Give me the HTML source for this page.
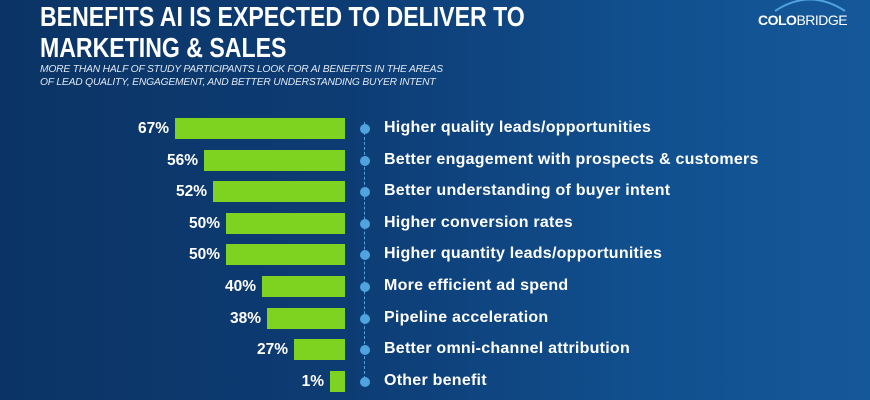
<!DOCTYPE html>
<html><head><style>
body{margin:0;width:870px;height:400px;overflow:hidden;font-family:"Liberation Sans",sans-serif;}
#bg{position:absolute;left:0;top:0;width:870px;height:400px;background:linear-gradient(90deg,#0b3465 0%,#0d3c74 40%,#11508f 75%,#15589a 100%);}
.t{position:absolute;color:#fff;font-weight:bold;}
.bar{position:absolute;background:#7ed321;height:21px;}
.pct{position:absolute;color:#fff;font-weight:bold;font-size:15.5px;text-align:right;width:60px;}
.lab{position:absolute;left:384px;color:#fff;font-weight:bold;font-size:16px;letter-spacing:0.25px;}
.dot{position:absolute;left:360px;width:10px;height:10px;border-radius:50%;background:#4fa3df;}
</style></head><body>
<div id="bg"></div>
<div class="t" style="left:40px;top:1px;font-size:28px;line-height:31px;transform:scaleX(0.825);transform-origin:0 0;white-space:nowrap;">BENEFITS AI IS EXPECTED TO DELIVER TO<br>MARKETING &amp; SALES</div>
<div style="position:absolute;left:40px;top:63px;color:#dfe8f3;font-style:italic;font-size:10.3px;line-height:13px;letter-spacing:-0.2px;white-space:nowrap;">MORE THAN HALF OF STUDY PARTICIPANTS LOOK FOR AI BENEFITS IN THE AREAS<br>OF LEAD QUALITY, ENGAGEMENT, AND BETTER UNDERSTANDING BUYER INTENT</div>
<div class="t" style="left:758px;top:12px;font-size:14px;letter-spacing:-0.5px;">COLO<span style="font-weight:normal">BRIDGE</span></div>
<svg style="position:absolute;left:770px;top:0" width="80" height="12"><path d="M5 11 Q40 -12 75 11" stroke="#4fa3df" stroke-width="2" fill="none"/></svg>
<div style="position:absolute;left:364px;top:122px;height:262px;border-left:1.5px dashed #4fa3df;"></div>
<div id="rows"></div>
<script>
var d=[[67,"Higher quality leads/opportunities",175],[56,"Better engagement with prospects & customers",204],[52,"Better understanding of buyer intent",213],[50,"Higher conversion rates",226],[50,"Higher quantity leads/opportunities",226],[40,"More efficient ad spend",262],[38,"Pipeline acceleration",267],[27,"Better omni-channel attribution",294],[1,"Other benefit",330]];
var h="";
d.forEach(function(r,i){var y=118+i*31.6;var l=r[2];var w=345-l;
h+='<div class="bar" style="left:'+l+'px;top:'+y+'px;width:'+w+'px"></div>';
h+='<div class="pct" style="left:'+(l-66)+'px;top:'+(y+2)+'px">'+r[0]+'%</div>';
h+='<div class="dot" style="top:'+(y+6)+'px"></div>';
h+='<div class="lab" style="top:'+(y+1)+'px">'+r[1].replace("&","&amp;")+'</div>';});
document.getElementById("rows").innerHTML=h;
</script>
</body></html>
